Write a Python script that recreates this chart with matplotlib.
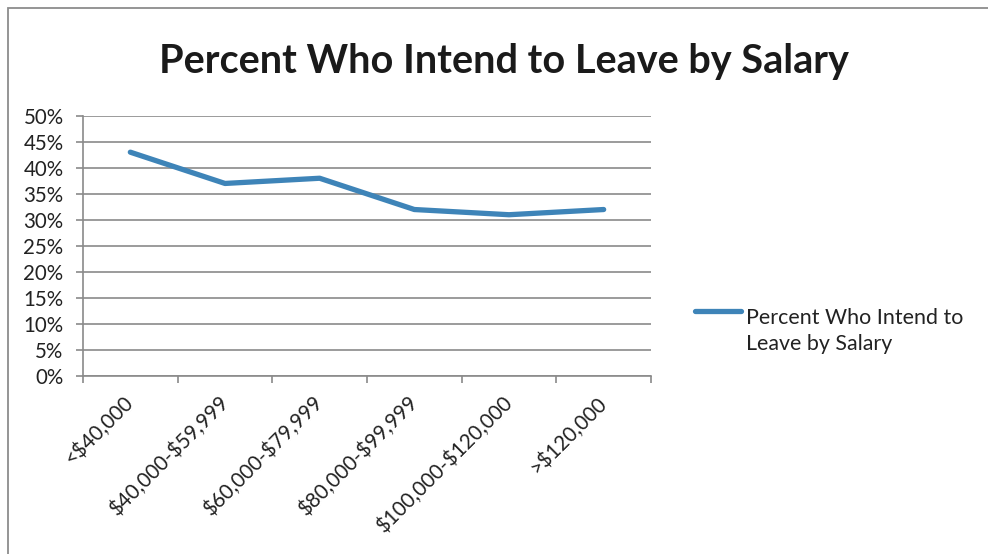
import matplotlib
matplotlib.use("Agg")
import matplotlib.pyplot as plt
from matplotlib.lines import Line2D
from matplotlib.patches import Rectangle
from matplotlib.ticker import FuncFormatter, FixedLocator

# data
categories = ["<$40,000", "$40,000-$59,999", "$60,000-$79,999",
              "$80,000-$99,999", "$100,000-$120,000", ">$120,000"]
percent_leave = [43, 37, 38, 32, 31, 32]
series_name = "Percent Who Intend to\nLeave by Salary"
chart_title = "Percent Who Intend to Leave by Salary"

plt.rcParams['font.family'] = ['Lato', 'DejaVu Sans']
plt.rcParams['text.parse_math'] = False  # keep the $ signs literal

W, H = 988, 554
fig = plt.figure(figsize=(W / 100, H / 100), dpi=100)

# outer chart border (only top and left visible in the reference)
fig.add_artist(Rectangle((8 / W, -0.1), 1.2, 1 - 8 / H + 0.1, transform=fig.transFigure,
                         fill=False, edgecolor="#8c8c8c", linewidth=1.3))

ax = fig.add_axes([83 / W, 1 - 376.3 / H, (651 - 83) / W, (376.3 - 115.7) / H])

grey = "#8a8a8a"
line_color = "#3e84b8"
txt = "#222222"
fs = 14.8

x = list(range(len(categories)))
ax.plot(x, percent_leave, color=line_color, linewidth=3.8, solid_capstyle="round",
        solid_joinstyle="round", zorder=3)

ax.set_xlim(-0.5, len(categories) - 0.5)
ax.set_ylim(0, 50)
ax.set_yticks(range(0, 51, 5))
ax.yaxis.set_major_formatter(FuncFormatter(lambda v, p: f"{int(v)}%"))
ax.grid(axis="y", color=grey, linewidth=1.2)
ax.set_axisbelow(True)

# category boundaries get tick marks, centers get the labels
ax.xaxis.set_major_locator(FixedLocator([i - 0.5 for i in range(len(categories) + 1)]))
ax.xaxis.set_minor_locator(FixedLocator(x))
ax.set_xticklabels([])
ax.set_xticklabels(categories, minor=True, rotation=45, ha="right", va="center",
                   rotation_mode="anchor", fontsize=fs, color=txt)
ax.tick_params(axis="x", which="major", length=5, width=1.2, color=grey, direction="out")
ax.tick_params(axis="x", which="minor", length=0, pad=17)
ax.tick_params(axis="y", length=5, width=1.2, color=grey, labelsize=fs,
               labelcolor=txt, pad=9)

for side in ["top", "right"]:
    ax.spines[side].set_visible(False)
for side in ["left", "bottom"]:
    ax.spines[side].set_color(grey)
    ax.spines[side].set_linewidth(1.2)

fig.text(504 / W, 1 - 61 / H, chart_title, ha="center", va="center",
         fontsize=28.5, fontweight="bold", color="#1a1a1a")

# legend drawn by hand so the handle sits at the first text line
fig.add_artist(Line2D([695 / W, 741 / W], [1 - 311 / H, 1 - 311 / H], transform=fig.transFigure,
                      color=line_color, linewidth=3.8, solid_capstyle="round"))
fig.text(746 / W, 1 - 331 / H, series_name, ha="left", va="center", fontsize=15.4,
         color=txt, linespacing=1.4)

fig.savefig("out.png", dpi=100)
